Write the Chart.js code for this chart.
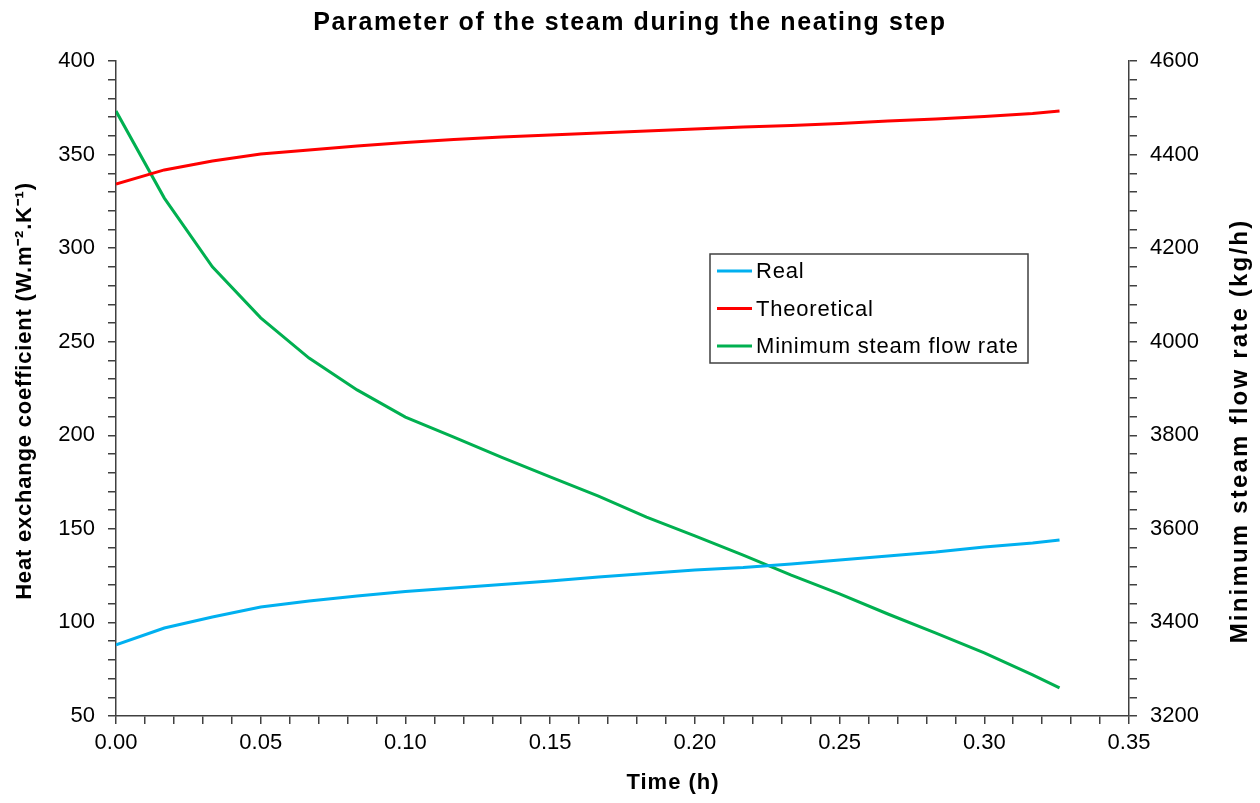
<!DOCTYPE html>
<html>
<head>
<meta charset="utf-8">
<script src="https://cdn.jsdelivr.net/npm/chart.js@4/dist/chart.umd.min.js"></script>
<style>
html,body{margin:0;padding:0;background:#fff;}
canvas{display:block;}
</style>
</head>
<body>
<canvas id="c" width="1260" height="803"></canvas>
<script>
// ---- data ----
const timeH = [0, 0.0167, 0.0333, 0.05, 0.0667, 0.0833, 0.1, 0.1167, 0.1333, 0.15, 0.1667,
  0.1833, 0.2, 0.2167, 0.2333, 0.25, 0.2667, 0.2833, 0.3, 0.3167, 0.326];
const realCoef = [88.0, 97.0, 102.9, 108.2, 111.4, 114.1, 116.5, 118.4, 120.3, 122.1, 124.3,
  126.1, 128.0, 129.3, 131.2, 133.4, 135.5, 137.6, 140.3, 142.4, 144.0];
const theoCoef = [334.3, 341.8, 346.6, 350.3, 352.4, 354.6, 356.4, 358.0, 359.4, 360.5, 361.5,
  362.6, 363.7, 364.7, 365.5, 366.6, 367.9, 369.0, 370.3, 371.9, 373.3];
const minSteam = [4493, 4307, 4160, 4051, 3965, 3897, 3839, 3796, 3753, 3711, 3670,
  3625, 3585, 3544, 3501, 3461, 3418, 3377, 3335, 3288, 3260];
const seriesNames = ['Real', 'Theoretical', 'Minimum steam flow rate'];
const chartTitle = 'Parameter of the steam during the neating step';
const xTitle = 'Time (h)';
const yLeftTitle = 'Heat exchange coefficient (W.m\u207B\u00B2.K\u207B\u00B9)';
const yRightTitle = 'Minimum steam flow rate (kg/h)';

const FONT = '"Liberation Sans", Arial, sans-serif';
const AXIS = '#404040';

function pts(ys){ return timeH.map((t,i)=>({x:t, y:ys[i]})); }

function spaced(ctx, px){ if ('letterSpacing' in ctx) ctx.letterSpacing = px + 'px'; }

const overlay = {
  id: 'overlay',
  afterDraw(chart){
    const ctx = chart.ctx;
    ctx.save();
    ctx.fillStyle = '#000';
    // title
    ctx.font = 'bold 25px ' + FONT;
    spaced(ctx, 1.6);
    ctx.textAlign = 'center';
    ctx.textBaseline = 'middle';
    ctx.fillText(chartTitle, 630, 23);
    // axis titles
    ctx.font = 'bold 22px ' + FONT;
    spaced(ctx, 1);
    ctx.fillText(xTitle, 673, 783);
    ctx.save();
    spaced(ctx, 0.8);
    ctx.translate(25, 391);
    ctx.rotate(-Math.PI/2);
    ctx.fillText(yLeftTitle, 0, 0);
    ctx.restore();
    ctx.save();
    ctx.font = 'bold 24px ' + FONT;
    spaced(ctx, 2.2);
    ctx.translate(1240, 431);
    ctx.rotate(-Math.PI/2);
    ctx.fillText(yRightTitle, 0, 0);
    ctx.restore();
    // legend box
    const bx = 710, by = 254, bw = 318, bh = 109;
    ctx.fillStyle = '#fff';
    ctx.fillRect(bx, by, bw, bh);
    ctx.strokeStyle = '#404040';
    ctx.lineWidth = 1.5;
    ctx.strokeRect(bx, by, bw, bh);
    ctx.font = '22px ' + FONT;
    spaced(ctx, 0.8);
    ctx.textAlign = 'left';
    ctx.textBaseline = 'middle';
    chart.data.datasets.forEach((ds, i) => {
      const y = 271 + i * 37.5;
      ctx.strokeStyle = ds.borderColor;
      ctx.lineWidth = 3;
      ctx.beginPath();
      ctx.moveTo(717, y);
      ctx.lineTo(752, y);
      ctx.stroke();
      ctx.fillStyle = '#000';
      ctx.fillText(ds.label, 756, y + 1);
    });
    ctx.restore();
  }
};

new Chart(document.getElementById('c'), {
  type: 'line',
  data: {
    datasets: [
      { label: seriesNames[0], data: pts(realCoef), borderColor: '#00B0F0', yAxisID: 'y' },
      { label: seriesNames[1], data: pts(theoCoef), borderColor: '#FF0000', yAxisID: 'y' },
      { label: seriesNames[2], data: pts(minSteam), borderColor: '#00B050', yAxisID: 'y2' }
    ]
  },
  options: {
    responsive: false,
    animation: false,
    layout: { padding: { top: 61, left: 0, right: 0, bottom: 0 } },
    elements: {
      line: { borderWidth: 3, tension: 0, fill: false },
      point: { radius: 0, hoverRadius: 0 }
    },
    plugins: {
      legend: { display: false },
      title: { display: false },
      tooltip: { enabled: false }
    },
    scales: {
      x: {
        type: 'linear',
        position: 'bottom',
        min: 0, max: 0.35,
        afterFit(s){ s.height = 87; },
        ticks: {
          stepSize: 0.01,
          autoSkip: false,
          maxRotation: 0,
          padding: 6,
          color: '#000',
          font: { family: FONT, size: 22 },
          callback(v){ const r = Math.round(v*100); return r % 5 === 0 ? (r/100).toFixed(2) : ''; }
        },
        grid: { drawOnChartArea: false, drawTicks: true, tickLength: 8, color: AXIS, lineWidth: 1.5 },
        border: { display: true, color: AXIS, width: 1.5 }
      },
      y: {
        type: 'linear',
        position: 'left',
        min: 50, max: 400,
        afterFit(s){ s.width = 116; },
        ticks: {
          stepSize: 10,
          autoSkip: false,
          padding: 13,
          color: '#000',
          font: { family: FONT, size: 22 },
          callback(v){ return Math.round(v) % 50 === 0 ? String(Math.round(v)) : ''; }
        },
        grid: { drawOnChartArea: false, drawTicks: true, tickLength: 8, color: AXIS, lineWidth: 1.5 },
        border: { display: true, color: AXIS, width: 1.5 }
      },
      y2: {
        type: 'linear',
        position: 'right',
        min: 3200, max: 4600,
        afterFit(s){ s.width = 131; },
        ticks: {
          stepSize: 40,
          autoSkip: false,
          padding: 13,
          color: '#000',
          font: { family: FONT, size: 22 },
          callback(v){ return Math.round(v) % 200 === 0 ? String(Math.round(v)) : ''; }
        },
        grid: { drawOnChartArea: false, drawTicks: true, tickLength: 8, color: AXIS, lineWidth: 1.5 },
        border: { display: true, color: AXIS, width: 1.5 }
      }
    }
  },
  plugins: [overlay]
});
</script>
</body>
</html>
